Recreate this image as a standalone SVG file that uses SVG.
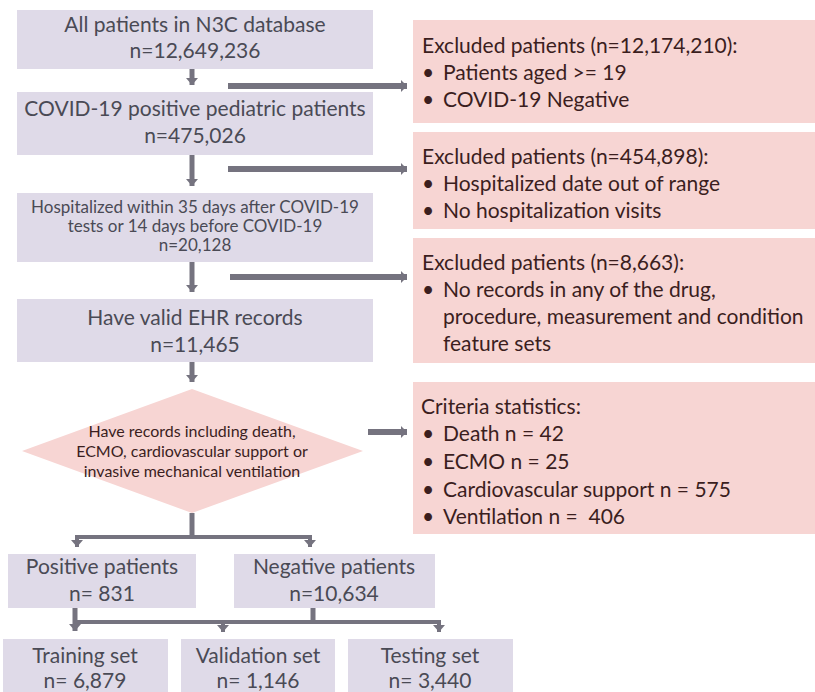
<svg xmlns="http://www.w3.org/2000/svg" width="815" height="692" viewBox="0 0 815 692">
<defs>
<style>
.box{fill:#DFDAE8}
.red{fill:#F7D5D3}
.t{font-family:Lato,"Open Sans",sans-serif;fill:#4A4A55;text-anchor:middle}
.r{font-family:Lato,"Open Sans",sans-serif;fill:#3B1E1E}
.big{font-size:21px}
.mid{font-size:17px}
.sm{font-size:16px}
.rt{font-size:21px}
.c{stroke:#75737F;fill:none}
.w6{stroke-width:6}
.w5{stroke-width:5}
.w4{stroke-width:4}
</style>
<marker id="ah" markerUnits="userSpaceOnUse" markerWidth="10" markerHeight="12" refX="6" refY="6" orient="auto">
<path d="M0,0 L6,6 L0,12 Z" fill="#75737F"/>
</marker>
<marker id="av" markerUnits="userSpaceOnUse" markerWidth="10" markerHeight="12" refX="7" refY="6" orient="auto">
<path d="M0,0 L7,6 L0,12 Z" fill="#75737F"/>
</marker>
</defs>
<rect width="815" height="692" fill="#FFFFFF"/>

<g id="connectors">
<line class="c w5" x1="192" y1="69" x2="192" y2="85" marker-end="url(#av)"/>
<line class="c w5" x1="192" y1="155" x2="192" y2="186" marker-end="url(#av)"/>
<line class="c w5" x1="192" y1="262" x2="192" y2="292" marker-end="url(#av)"/>
<line class="c w5" x1="192" y1="362" x2="192" y2="382" marker-end="url(#av)"/>
<line class="c w6" x1="228" y1="86" x2="407" y2="86" marker-end="url(#ah)"/>
<line class="c w6" x1="228" y1="169" x2="407" y2="169" marker-end="url(#ah)"/>
<line class="c w6" x1="230" y1="277" x2="407" y2="277" marker-end="url(#ah)"/>
<line class="c w6" x1="368" y1="432" x2="407" y2="432" marker-end="url(#ah)"/>
<line class="c w5" x1="192" y1="513" x2="192" y2="537"/>
<line class="c w4" x1="75" y1="537" x2="312" y2="537"/>
<line class="c w4" x1="77" y1="537" x2="77" y2="547" marker-end="url(#av)"/>
<line class="c w4" x1="310" y1="537" x2="310" y2="547" marker-end="url(#av)"/>
<line class="c w5" x1="75" y1="608" x2="75" y2="631" marker-end="url(#av)"/>
<line class="c w5" x1="313" y1="608" x2="313" y2="622"/>
<line class="c w4" x1="73" y1="622" x2="441" y2="622"/>
<line class="c w4" x1="223" y1="622" x2="223" y2="632" marker-end="url(#av)"/>
<line class="c w4" x1="439" y1="622" x2="439" y2="632" marker-end="url(#av)"/>
</g>

<g id="n3c">
<rect class="box" x="17" y="10" width="356" height="59"/>
<text class="t big" x="195" y="32">All patients in N3C database</text>
<text class="t big" x="195" y="58">n=12,649,236</text>
</g>
<g id="covid-pos">
<rect class="box" x="17" y="92" width="356" height="63"/>
<text class="t big" x="195" y="116">COVID-19 positive pediatric patients</text>
<text class="t big" x="195" y="143">n=475,026</text>
</g>
<g id="hospitalized">
<rect class="box" x="17" y="193" width="356" height="69"/>
<text class="t mid" x="195" y="213">Hospitalized within 35 days after COVID-19</text>
<text class="t mid" x="195" y="232">tests or 14 days before COVID-19</text>
<text class="t mid" x="195" y="251">n=20,128</text>
</g>
<g id="valid-ehr">
<rect class="box" x="17" y="299" width="356" height="63"/>
<text class="t big" x="195" y="325">Have valid EHR records</text>
<text class="t big" x="195" y="352">n=11,465</text>
</g>
<g id="criteria">
<polygon class="red" points="192,389 363,451 192,513 22,451"/>
<text class="r sm" x="192" y="437" text-anchor="middle">Have records including death,</text>
<text class="r sm" x="192" y="457" text-anchor="middle">ECMO, cardiovascular support or</text>
<text class="r sm" x="192" y="477" text-anchor="middle">invasive mechanical ventilation</text>
</g>

<g id="excl1">
<rect class="red" x="413" y="20" width="402" height="103"/>
<text class="r rt" x="422" y="53">Excluded patients (n=12,174,210):</text>
<text class="r rt" x="422" y="80">•</text><text class="r rt" x="443" y="80">Patients aged &gt;= 19</text>
<text class="r rt" x="422" y="107">•</text><text class="r rt" x="443" y="107">COVID-19 Negative</text>
</g>
<g id="excl2">
<rect class="red" x="413" y="132" width="402" height="97"/>
<text class="r rt" x="422" y="164">Excluded patients (n=454,898):</text>
<text class="r rt" x="422" y="191">•</text><text class="r rt" x="443" y="191">Hospitalized date out of range</text>
<text class="r rt" x="422" y="218">•</text><text class="r rt" x="443" y="218">No hospitalization visits</text>
</g>
<g id="excl3">
<rect class="red" x="413" y="238" width="402" height="125"/>
<text class="r rt" x="422" y="270">Excluded patients (n=8,663):</text>
<text class="r rt" x="422" y="297">•</text><text class="r rt" x="443" y="297">No records in any of the drug,</text>
<text class="r rt" x="443" y="324">procedure, measurement and condition</text>
<text class="r rt" x="443" y="351">feature sets</text>
</g>
<g id="stats">
<rect class="red" x="413" y="382" width="402" height="152"/>
<text class="r rt" x="421" y="414">Criteria statistics:</text>
<text class="r rt" x="422" y="441">•</text><text class="r rt" x="443" y="441">Death n = 42</text>
<text class="r rt" x="422" y="469">•</text><text class="r rt" x="443" y="469">ECMO n = 25</text>
<text class="r rt" x="422" y="497">•</text><text class="r rt" x="443" y="497">Cardiovascular support n = 575</text>
<text class="r rt" x="422" y="524">•</text><text class="r rt" x="443" y="524" xml:space="preserve">Ventilation n =  406</text>
</g>

<g id="positive">
<rect class="box" x="8" y="554" width="188" height="54"/>
<text class="t big" x="102" y="574">Positive patients</text>
<text class="t big" x="102" y="601">n= 831</text>
</g>
<g id="negative">
<rect class="box" x="234" y="554" width="201" height="54"/>
<text class="t big" x="334" y="574">Negative patients</text>
<text class="t big" x="334" y="601">n=10,634</text>
</g>
<g id="training">
<rect class="box" x="3" y="639" width="165" height="53"/>
<text class="t big" x="85" y="663">Training set</text>
<text class="t big" x="85" y="688">n= 6,879</text>
</g>
<g id="validation">
<rect class="box" x="181" y="639" width="154" height="53"/>
<text class="t big" x="258" y="663">Validation set</text>
<text class="t big" x="258" y="688">n= 1,146</text>
</g>
<g id="testing">
<rect class="box" x="348" y="639" width="165" height="53"/>
<text class="t big" x="430" y="663">Testing set</text>
<text class="t big" x="430" y="688">n= 3,440</text>
</g>
</svg>
